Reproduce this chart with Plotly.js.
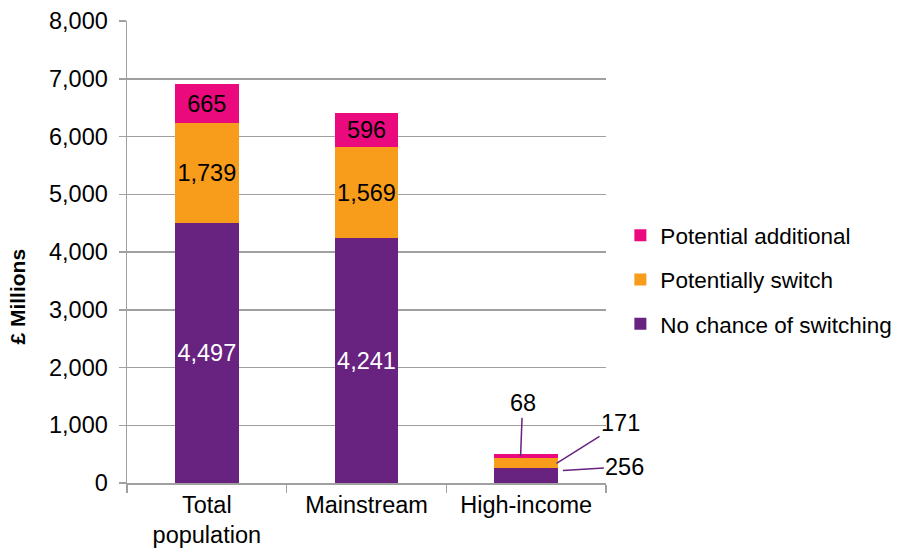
<!DOCTYPE html>
<html>
<head>
<meta charset="utf-8">
<script src="https://cdn.plot.ly/plotly-3.0.1.min.js"></script>
<style>
  html, body { margin: 0; padding: 0; background: #fff; }
  #plot { width: 912px; height: 550px; }
</style>
</head>
<body>
<div id="plot"></div>
<script>
// Chart data (£ millions)
const categories = ["Total<br>population", "Mainstream", "High-income"];
const noChance = [4497, 4241, 256];
const potSwitch = [1739, 1569, 171];
const potAdditional = [665, 596, 68];
const yTicks = [0, 1000, 2000, 3000, 4000, 5000, 6000, 7000, 8000];

const PURPLE = "#68227F";
const ORANGE = "#F89C1C";
const PINK = "#EA0A7E";
const GRID = "#A0A0A0";
const FONT = "Liberation Sans, Arial, sans-serif";
const FS = 23.5;

// Labels sit inside the two big bars only; the small bar gets call-outs
const fmt = (v) => v.toLocaleString("en-US");
const insideText = (arr) => arr.map((v, i) => (i < 2 ? fmt(v) : ""));

const makeTrace = (name, values, color, textColor, rank) => ({
  type: "bar",
  name: name,
  legendgroup: name,
  legendrank: rank,
  x: categories,
  y: values,
  width: 0.4,
  marker: { color: color },
  text: insideText(values),
  textposition: "inside",
  insidetextanchor: "middle",
  textangle: 0,
  constraintext: "none",
  cliponaxis: false,
  textfont: { color: textColor, size: FS, family: FONT },
  hoverinfo: "skip",
});

const traces = [
  makeTrace("No chance of switching", noChance, PURPLE, "#ffffff", 3),
  makeTrace("Potentially switch", potSwitch, ORANGE, "#000000", 2),
  makeTrace("Potential additional", potAdditional, PINK, "#000000", 1),
];

// Call-out labels for the High-income bar
const hi = 2;
const callout = (x, y, text, ax, ay, yshift) => ({
  x: x,
  y: y,
  xref: "x",
  yref: "y",
  text: text,
  showarrow: true,
  arrowhead: 0,
  arrowwidth: 1.5,
  arrowcolor: PURPLE,
  standoff: 0,
  ax: ax,
  ay: ay,
  yshift: yshift || 0,
  font: { size: FS, family: FONT, color: "#000" },
});

const layout = {
  width: 912,
  height: 550,
  margin: { l: 127, r: 306, t: 21, b: 67 },
  barmode: "stack",
  plot_bgcolor: "#ffffff",
  paper_bgcolor: "#ffffff",
  font: { family: FONT, size: FS, color: "#000" },
  showlegend: true,
  legend: {
    x: 1.03,
    y: 0.44,
    xanchor: "left",
    yanchor: "middle",
    traceorder: "grouped",
    tracegroupgap: 12,
    font: { size: 22.5, family: FONT, color: "#000" },
    itemwidth: 30,
  },
  xaxis: {
    type: "category",
    range: [-0.5, categories.length - 0.5],
    showline: true,
    linecolor: GRID,
    linewidth: 1.5,
    ticks: "outside",
    tickson: "boundaries",
    ticklen: 8,
    tickcolor: GRID,
    tickwidth: 1.5,
    tickangle: 0,
    automargin: false,
    tickfont: { size: FS, family: FONT, color: "#000" },
    showgrid: false,
  },
  yaxis: {
    range: [0, 8000],
    tickvals: yTicks,
    tickformat: ",",
    showline: true,
    linecolor: GRID,
    linewidth: 1.5,
    ticks: "outside",
    ticklen: 7,
    tickcolor: GRID,
    tickwidth: 1.5,
    showgrid: true,
    gridcolor: GRID,
    gridwidth: 1.5,
    zeroline: false,
    automargin: false,
    ticklabelstandoff: 6,
    tickfont: { size: FS, family: FONT, color: "#000" },
  },
  annotations: [
    callout(hi - 0.035, noChance[hi] + potSwitch[hi] + potAdditional[hi] / 2, "68", 2, -53),
    callout(hi + 0.19, noChance[hi] + potSwitch[hi] / 2, "171", 64, -40),
    callout(hi + 0.23, noChance[hi] / 2, "256", 62, -4, 5),
    // y-axis title sits a little below the plot's middle in the reference
    {
      xref: "paper",
      yref: "paper",
      x: -0.228,
      y: 0.403,
      xanchor: "center",
      yanchor: "middle",
      text: "<b>£ Millions</b>",
      textangle: -90,
      showarrow: false,
      font: { size: 21, family: FONT, color: "#000" },
    },
  ],
};

Plotly.newPlot("plot", traces, layout, { displayModeBar: false, staticPlot: true });
</script>
</body>
</html>
